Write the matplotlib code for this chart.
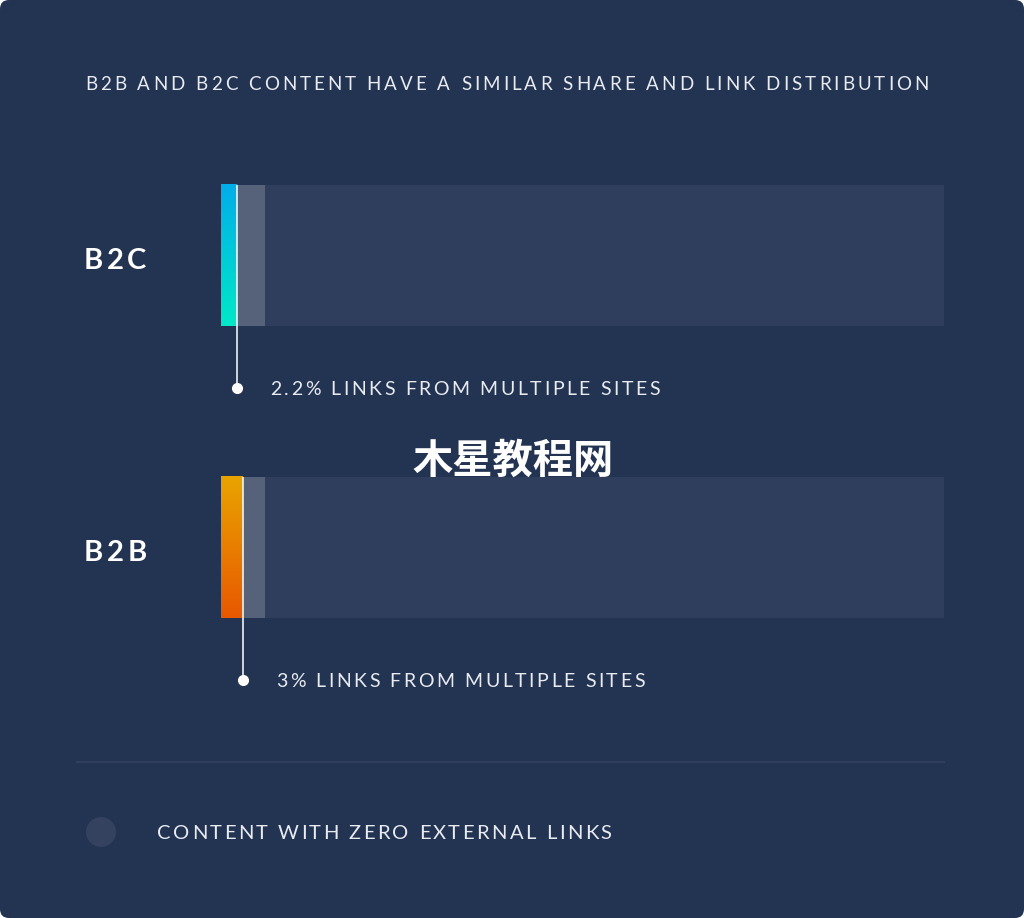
import matplotlib
matplotlib.use("Agg")
import matplotlib.pyplot as plt
from matplotlib.transforms import IdentityTransform
from matplotlib.patches import FancyBboxPatch, Circle
import numpy as np

# data
categories = ["B2C", "B2B"]
multi_site_pct = [2.2, 3.0]          # coloured segment
single_site_pct = [6.1, 6.1]         # grey segment (unlabelled)
zero_links_pct = [100, 100]          # full track
annot_labels = ["2.2% LINKS FROM MULTIPLE SITES", "3% LINKS FROM MULTIPLE SITES"]
grad_colors = [("#00aeea", "#00e8c8"), ("#e9a400", "#e85800")]
title = "B2B AND B2C CONTENT HAVE A SIMILAR SHARE AND LINK DISTRIBUTION"
legend_label = "CONTENT WITH ZERO EXTERNAL LINKS"
watermark = "木星教程网"

BG = "#233352"
TRACK = "#2f3e5c"
GREY = "#56627a"
TEXT = "#e8ebf0"
FONT = ["Lato", "DejaVu Sans"]

W, H = 1024, 918
fig = plt.figure(figsize=(W / 100, H / 100), dpi=100, facecolor="white")
renderer = fig.canvas.get_renderer()


def text_width(s, **kw):
    t = fig.text(0, 0, s, transform=IdentityTransform(), **kw)
    w = t.get_window_extent(renderer).width
    t.remove()
    return w


def spaced_text(x, y_mid, s, size, track, weight="normal", color=TEXT):
    ''' draws s in display pixels with extra letter spacing, vertically
    centred on the cap height '''
    kw = dict(fontsize=size, family=FONT, fontweight=weight)
    bar = text_width("||", **kw)
    cap = size * 100 / 72 * 0.72
    y = y_mid - cap / 2
    for ch in s:
        fig.text(x, y, ch, transform=IdentityTransform(), color=color,
                 ha="left", va="baseline", **kw)
        x += text_width("|" + ch + "|", **kw) - bar + track


# background axes in pixel coords
bg = fig.add_axes([0, 0, 1, 1])
bg.set_xlim(0, W)
bg.set_ylim(H, 0)
bg.axis("off")
bg.add_patch(FancyBboxPatch((0, 0), W, H, boxstyle="round,pad=0,rounding_size=9",
                            fc=BG, ec="none"))
bg.plot([77, 944], [762, 762], color="#2f3e5c", lw=1.5)
bg.add_patch(Circle((101, 832), 15, fc="#34425f", ec="none"))
bg.text(513, 461, watermark, color="white", fontsize=29, fontweight="black",
        family=["Noto Sans CJK SC", "DejaVu Sans"], va="center", ha="center",
        zorder=10)

spaced_text(85, H - 83, title, 13.5, 3.05)
spaced_text(157, H - 832, legend_label, 14.5, 2.45)

# bar axes
ax = fig.add_axes([221 / W, 1 - 700 / H, 723 / W, 550 / H])
ax.axis("off")
h = 141 / 292
pos = np.arange(len(categories))
ax.barh(pos, zero_links_pct, height=h, color=TRACK, zorder=1)
ax.barh(pos, single_site_pct, height=h, color=GREY, zorder=2)

for i, cat in enumerate(categories):
    c0 = np.array(matplotlib.colors.to_rgb(grad_colors[i][0]))
    c1 = np.array(matplotlib.colors.to_rgb(grad_colors[i][1]))
    t = np.linspace(0, 1, 100)[:, None, None]
    grad = c0 * (1 - t) + c1 * t
    ax.imshow(grad, extent=(0, multi_site_pct[i], i + h / 2, i - h / 2),
              origin="upper", aspect="auto", zorder=3, interpolation="bilinear")
    dot_y = i + 0.454
    ax.plot([multi_site_pct[i]] * 2, [i - h / 2, dot_y], color="white",
            lw=1.3, alpha=0.85, zorder=4, solid_capstyle="butt")
    ax.plot(multi_site_pct[i], dot_y, "o", color="white", ms=7, zorder=5)

ax.set_xlim(0, 100)
ax.set_ylim(1.522, -0.361)

for i, cat in enumerate(categories):
    dx, dy = ax.transData.transform((multi_site_pct[i], i + 0.454))
    spaced_text(dx + 33, dy, annot_labels[i], 14, 2.6)
    _, cy = ax.transData.transform((0, i))
    spaced_text(84, cy - 3, cat, 21, 3.5, weight="bold", color="white")

fig.savefig("out.png", dpi=100, facecolor="white")
